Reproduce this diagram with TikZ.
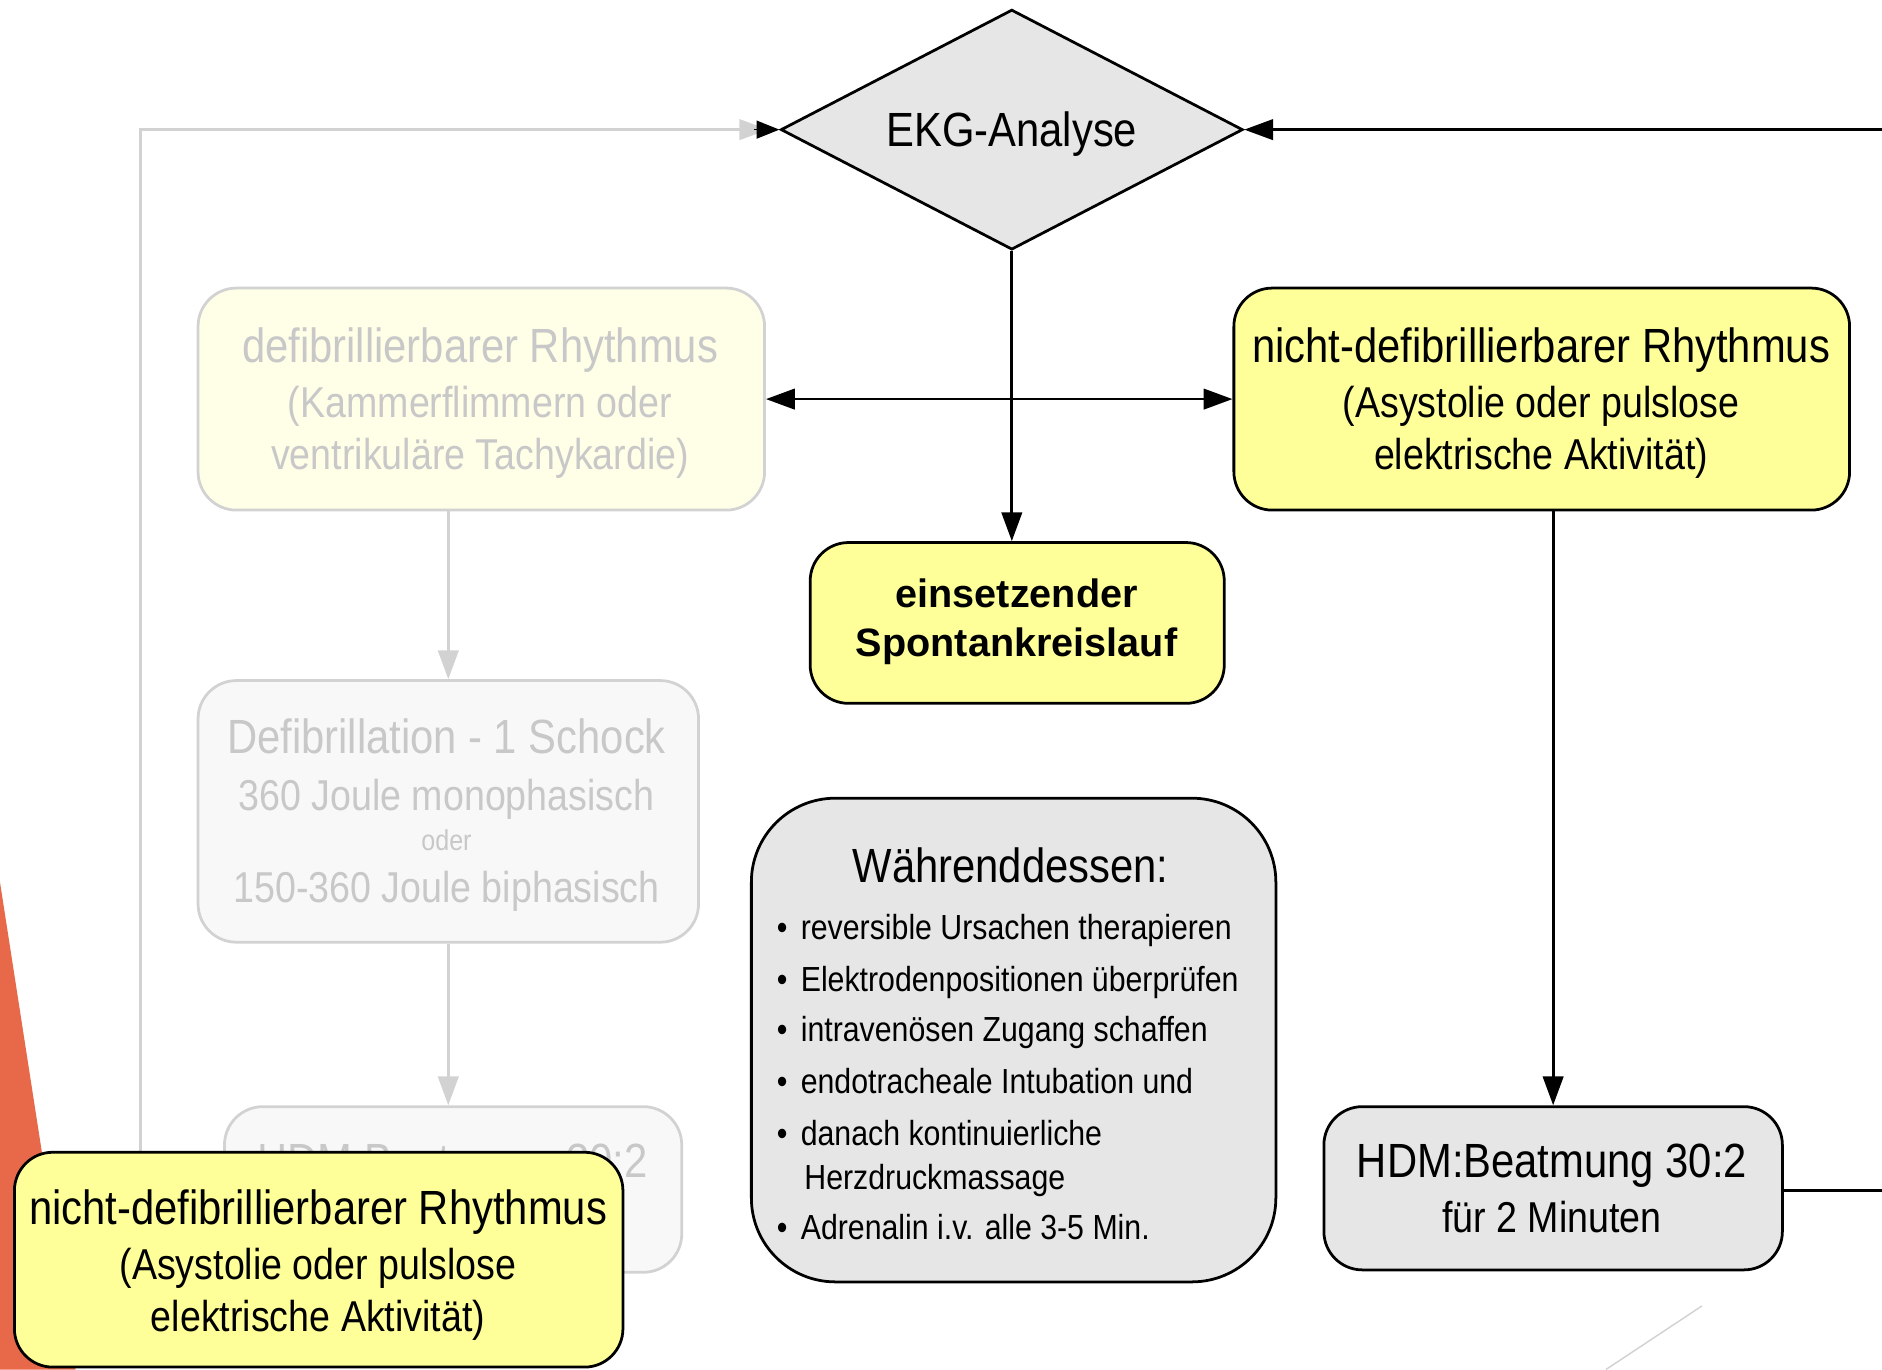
\documentclass[tikz,border=0pt]{standalone}
\usepackage{fontspec}
\setmainfont{Liberation Sans}[FakeStretch=0.87]
\newfontfamily\plainsans{Liberation Sans}
\usetikzlibrary{shapes.geometric,arrows.meta}
\definecolor{yel}{HTML}{FFFF99}
\definecolor{fyel}{HTML}{FFFFE8}
\definecolor{lgrey}{HTML}{E6E6E6}
\definecolor{fgreyfill}{HTML}{F8F8F8}
\definecolor{fline}{HTML}{D2D2D2}
\definecolor{ftext}{HTML}{C8C8C8}
\definecolor{orng}{HTML}{E8694A}
\begin{document}
\begin{tikzpicture}[x=1pt,y=-1pt,
  box/.style={draw=black, line width=2.3pt, rounded corners=32pt, inner sep=0pt},
  fbox/.style={draw=fline, line width=2.3pt, rounded corners=32pt, inner sep=0pt},
  arr/.style={line width=2.3pt, -{Triangle[length=24pt,width=17pt]}},
  garr/.style={line width=2.3pt, draw=fline, color=fline, -{Triangle[length=24pt,width=17pt]}},
  big/.style={font=\fontsize{40}{44}\selectfont, anchor=base, inner sep=0pt},
  mid/.style={font=\fontsize{36}{40}\selectfont, anchor=base, inner sep=0pt},
  small/.style={font=\fontsize{29}{32}\selectfont, anchor=base west, inner sep=0pt},
  bld/.style={font=\plainsans\bfseries\fontsize{33}{36}\selectfont, anchor=base, inner sep=0pt}]
\useasboundingbox (0,0) rectangle (1568,1141);
% orange shape
\fill[orng] (0,735) -- (63,1141) -- (0,1141) -- cycle;
% faint diagonal line bottom right
\coordinate (dg1) at (1418,1088);
\coordinate (dg2) at (1338,1141);
\draw[fline, line width=1.2pt] (dg1) -- (dg2);

% diamond
\node[diamond, draw=black, line width=2.3pt, fill=lgrey, minimum width=385pt, minimum height=200pt, inner sep=0pt, aspect=1.925] (ekg) at (843,108) {};
\node[big] (ekgt) at (843,122) {EKG-Analyse};

% boxes
\node[fbox, fill=fyel, minimum width=472pt, minimum height=185pt] (defib) at (401,332.5) {};
\node[box, fill=yel, minimum width=513pt, minimum height=185pt] (nd) at (1284.5,332.5) {};
\node[box, fill=yel, minimum width=345pt, minimum height=134pt] (spont) at (847.5,519) {};
\node[fbox, fill=fgreyfill, minimum width=417pt, minimum height=218pt] (defi2) at (373.5,676) {};
\node[fbox, fill=fgreyfill, minimum width=381pt, minimum height=138pt] (hdmg) at (377.5,991) {};
\node[box, fill=lgrey, minimum width=382pt, minimum height=136pt] (hdm) at (1294,990) {};
\node[box, fill=lgrey, rounded corners=70pt, minimum width=437pt, minimum height=403pt] (waehr) at (844.5,866.5) {};

% connectors
\coordinate (rin) at (1568,108);
\draw[arr] (rin) -- (ekg.east);
\coordinate (gl) at (117,960);
\coordinate (gc) at (117,108);
\coordinate (gend) at (640,108);
\draw[garr] (gl) -- (gc) -- (gend);
\coordinate (bk) at (628,108);
\draw[line width=1pt, -{Triangle[length=19pt,width=15pt]}] (bk) -- (ekg.west);
\draw[arr] (ekg.south) -- (ekg.south |- spont.north);
\draw[line width=2.3pt, {Triangle[length=24pt,width=17pt]}-{Triangle[length=24pt,width=17pt]}] (defib.east) -- (nd.west);
\draw[arr] (hdm.north |- nd.south) -- (hdm.north);
\coordinate (rout) at (1568,992);
\draw[line width=2.3pt] (hdm.east |- rout) -- (rout);
\draw[garr] (defi2.north |- defib.south) -- (defi2.north);
\draw[garr] (defi2.south) -- (defi2.south |- hdmg.north);

% texts
\node[big, text=ftext] (t1) at (400,302) {defibrillierbarer Rhythmus};
\node[mid, text=ftext] (t2) at (400,348) {(Kammerflimmern oder};
\node[mid, text=ftext] (t3) at (400,391) {ventrikuläre Tachykardie)};

\node[big] (t4) at (1284,302) {nicht-defibrillierbarer Rhythmus};
\node[mid] (t5) at (1284,348) {(Asystolie oder pulslose};
\node[mid] (t6) at (1284,391) {elektrische Aktivität)};

\node[bld] (t7) at (847,506) {einsetzender};
\node[bld] (t8) at (847,547) {Spontankreislauf};

\node[big, text=ftext] (t9) at (372,628) {Defibrillation - 1 Schock};
\node[mid, text=ftext] (t10) at (372,675) {360 Joule monophasisch};
\node[anchor=base, inner sep=0pt, text=ftext, font=\fontsize{24}{26}\selectfont] (t11) at (372,709) {oder};
\node[mid, text=ftext] (t12) at (372,752) {150-360 Joule biphasisch};

\node[big, text=ftext] (t13) at (377,981) {HDM:Beatmung 30:2};

\node[big] (t14) at (1293,981) {HDM:Beatmung 30:2};
\node[mid] (t15) at (1293,1027) {für 2 Minuten};

\node[big] (t16) at (842,735) {Währenddessen:};
\foreach \yy/\nm in {783/b1,826/b2,868/b3,911/b4,954/b5,1033/b6}{
  \node[small, anchor=base west] (\nm) at (647,\yy) {•};
}
\node[small] (l1) at (667,783) {reversible Ursachen therapieren};
\node[small] (l2) at (667,826) {Elektrodenpositionen überprüfen};
\node[small] (l3) at (667,868) {intravenösen Zugang schaffen};
\node[small] (l4) at (667,911) {endotracheale Intubation und};
\node[small] (l5) at (667,954) {danach kontinuierliche};
\node[small] (l6) at (670,991) {Herzdruckmassage};
\node[small] (l7) at (667,1033) {Adrenalin i.v. alle 3-5 Min.};

% bottom-left yellow box
\node[box, fill=yel, minimum width=507pt, minimum height=179pt] (ndb) at (265.5,1049.5) {};
\node[big] (t17) at (265,1020) {nicht-defibrillierbarer Rhythmus};
\node[mid] (t18) at (265,1066) {(Asystolie oder pulslose};
\node[mid] (t19) at (265,1109) {elektrische Aktivität)};
\end{tikzpicture}
\end{document}
